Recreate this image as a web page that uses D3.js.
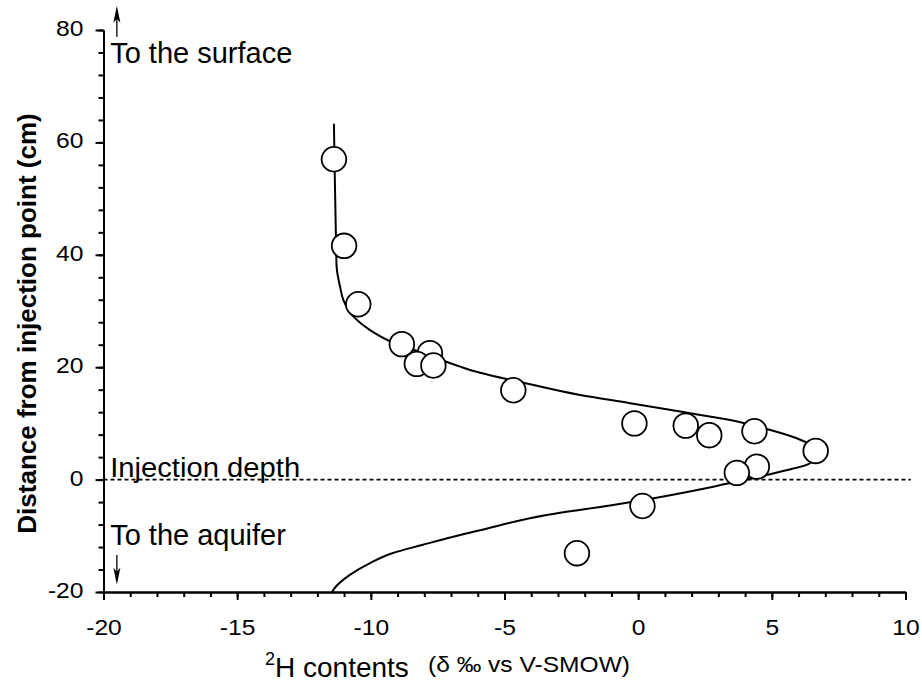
<!DOCTYPE html>
<html>
<head>
<meta charset="utf-8">
<script src="https://cdn.jsdelivr.net/npm/d3@7"></script>
<style>
  body { margin: 0; background: #fff; }
  text { font-family: "Liberation Sans", Arial, sans-serif; fill: #000; }
</style>
</head>
<body>
<div id="chart"></div>
<script>
// measured points (2H content, distance from injection point)
var obsX = [-11.38, -11.0, -10.47, -8.84, -7.79, -8.28, -7.66, -4.67, -0.14, 1.78, 2.66, 4.35, 6.64, 4.44, 3.69, 0.16, -2.29];
var obsY = [57.0, 41.6, 31.2, 24.1, 22.5, 20.6, 20.3, 15.9, 10.0, 9.6, 7.9, 8.6, 5.1, 2.3, 1.2, -4.7, -13.1];

// model curve, read along its path
var curveY = [63.3, 57, 41.7, 37.9, 34.3, 32, 29, 26.6, 24.8, 22.5, 20.1, 19.0, 17.1, 15.05, 13.6, 12.1, 10.6, 9.0, 7.35, 6.2, 4.5,
              2.9, 1.4, 0, -1.26, -3.0, -4.5, -6.3, -9.0, -10.2, -11.6, -13.1, -14.9, -17.0, -19.6, -20];
var curveX = [-11.38, -11.36, -11.3, -11.28, -11.15, -11.03, -10.65, -10.03, -9.36, -8.05, -6.66, -5.91, -4.17, -2.17, -0.3, 1.57, 3.44, 4.81, 5.93, 6.43, 6.65,
              6.43, 5.31, 4.06, 2.81, 0.94, -0.93, -3.42, -5.91, -6.95, -8.05, -9.2, -10.05, -10.8, -11.40, -11.45];

var xMajor = [-20, -15, -10, -5, 0, 5, 10];
var yMajor = [-20, 0, 20, 40, 60, 80];

var width = 922, height = 682;
var margin = {left: 103.5, top: 30, right: 16.5, bottom: 90};

var svg = d3.select("#chart").append("svg")
    .attr("width", width)
    .attr("height", height);

var x = d3.scaleLinear().domain([-20, 10]).range([margin.left, width - margin.right]);
var y = d3.scaleLinear().domain([-20, 80]).range([height - margin.bottom, margin.top]);

var plain = function(d) { return String(d); };

// minor ticks
svg.append("g")
    .attr("transform", "translate(0," + y(-20) + ")")
    .call(d3.axisBottom(x).tickValues(d3.range(-20, 11, 1)).tickSize(5).tickSizeOuter(0).tickFormat(""));
svg.append("g")
    .attr("transform", "translate(" + x(-20) + ",0)")
    .call(d3.axisLeft(y).tickValues(d3.range(-20, 81, 4)).tickSize(5).tickSizeOuter(0).tickFormat(""));

// major ticks with labels
var sx = 1.12;
var xAxis = svg.append("g")
    .attr("transform", "translate(0," + y(-20) + ")")
    .call(d3.axisBottom(x).tickValues(xMajor).tickSize(8).tickSizeOuter(0).tickFormat(plain));
xAxis.selectAll("text")
    .attr("y", 43).attr("dy", 0)
    .attr("transform", "scale(" + sx + ",1)");

var yAxis = svg.append("g")
    .attr("transform", "translate(" + x(-20) + ",0)")
    .call(d3.axisLeft(y).tickValues(yMajor).tickSize(8).tickSizeOuter(0).tickFormat(plain));
yAxis.selectAll("text")
    .attr("x", -20 / sx).attr("dy", 5.5)
    .attr("transform", "scale(" + sx + ",1)");

svg.selectAll(".tick text")
    .style("font-size", "22px")
    .style("font-family", "'Liberation Sans', Arial, sans-serif");
svg.selectAll(".domain, .tick line")
    .attr("stroke", "#000")
    .attr("stroke-width", 2);

// injection depth line
svg.append("line")
    .attr("x1", x(-20)).attr("x2", x(10.2))
    .attr("y1", y(0)).attr("y2", y(0))
    .attr("stroke", "#000")
    .attr("stroke-width", 1.6)
    .attr("stroke-dasharray", "4,3");

// model curve
var pts = curveX.map(function(v, i) { return [v, curveY[i]]; });
var line = d3.line()
    .x(function(d) { return x(d[0]); })
    .y(function(d) { return y(d[1]); })
    .curve(d3.curveMonotoneY);
svg.append("path")
    .datum(pts)
    .attr("d", line)
    .attr("fill", "none")
    .attr("stroke", "#000")
    .attr("stroke-width", 2);

// observations
svg.append("g")
  .selectAll("circle")
  .data(obsX.map(function(v, i) { return [v, obsY[i]]; }))
  .enter()
  .append("circle")
    .attr("cx", function(d) { return x(d[0]); })
    .attr("cy", function(d) { return y(d[1]); })
    .attr("r", 12.3)
    .attr("fill", "#fff")
    .attr("stroke", "#000")
    .attr("stroke-width", 1.8);

// arrows
function arrow(x0, y0, y1) {
  var px = x(x0), pa = y(y0), pb = y(y1);
  var dir = pb < pa ? 1 : -1;
  svg.append("line")
      .attr("x1", px).attr("x2", px)
      .attr("y1", pa).attr("y2", pb + dir * 10)
      .attr("stroke", "#000").attr("stroke-width", 1.3);
  svg.append("path")
      .attr("d", "M" + px + "," + pb + "L" + (px - 3.5) + "," + (pb + dir * 17) +
                 "L" + px + "," + (pb + dir * 13) + "L" + (px + 3.5) + "," + (pb + dir * 17) + "Z")
      .attr("fill", "#000");
}
arrow(-19.5, 78.8, 84.3);
arrow(-19.5, -13.4, -18.7);

// annotations
svg.append("text").attr("x", x(-19.75)).attr("y", 63)
    .style("font-size", "29px").text("To the surface");
svg.append("text").attr("x", x(-19.75)).attr("y", 477)
    .attr("textLength", 190).attr("lengthAdjust", "spacingAndGlyphs")
    .style("font-size", "27px").text("Injection depth");
svg.append("text").attr("x", x(-19.75)).attr("y", 545)
    .style("font-size", "29px").text("To the aquifer");

// axis titles
var xt = svg.append("text").attr("x", 265).attr("y", 677).style("font-size", "28px");
xt.append("tspan").attr("dy", -12).style("font-size", "18px").text("2");
xt.append("tspan").attr("dy", 12).text("H contents");
svg.append("text").attr("x", 428).attr("y", 672)
    .attr("textLength", 202).attr("lengthAdjust", "spacingAndGlyphs")
    .style("font-size", "22px").text("(δ ‰ vs V-SMOW)");

svg.append("text")
    .attr("transform", "translate(36," + ((112 + 535) / 2) + ") rotate(-90)")
    .attr("text-anchor", "middle")
    .style("font-size", "26px")
    .style("font-weight", "bold")
    .text("Distance from injection point (cm)");
</script>
</body>
</html>
